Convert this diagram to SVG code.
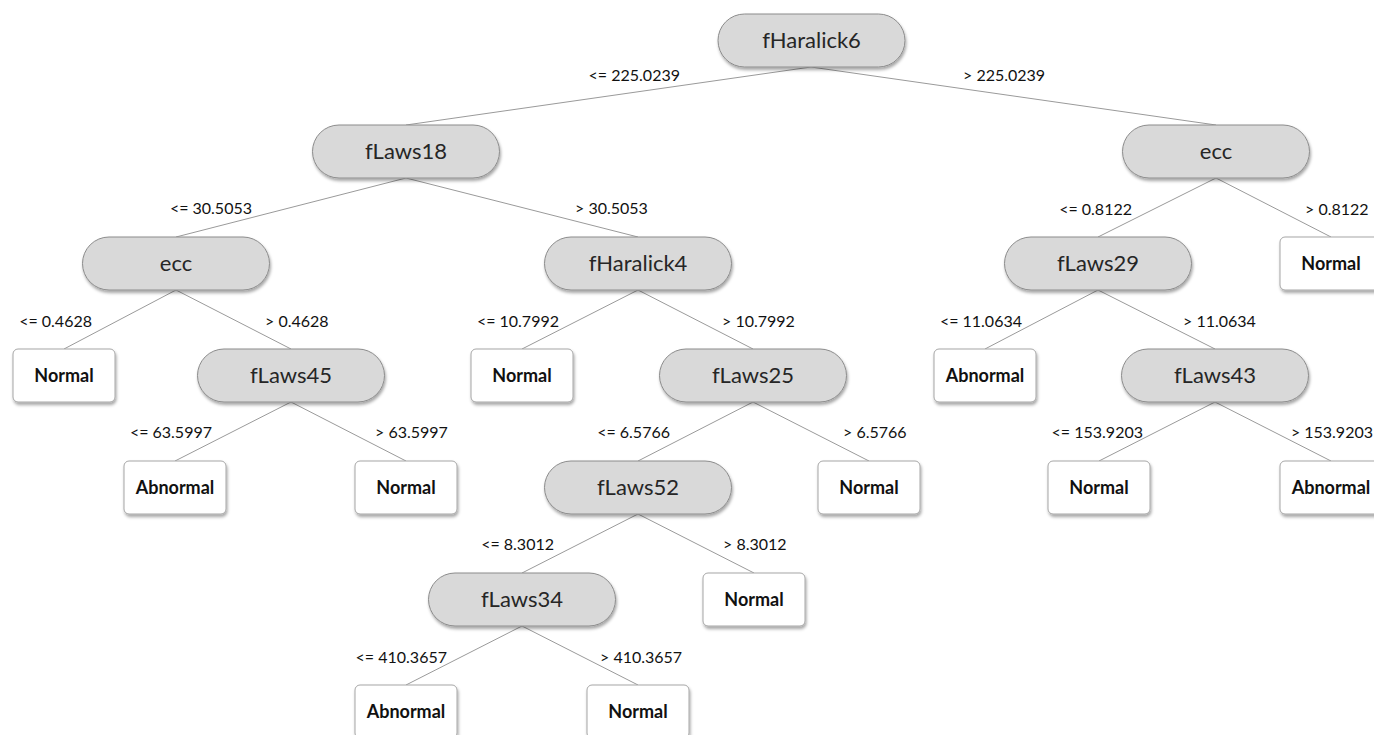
<svg xmlns="http://www.w3.org/2000/svg" width="1374" height="735" viewBox="0 0 1374 735">
<style>
.pill{fill:#d9d9d9;stroke:#8c8c8c;stroke-width:1}
.leaf{fill:#ffffff;stroke:#a6a6a6;stroke-width:1}
.nt{font-family:Lato,"Open Sans","Liberation Sans",sans-serif;font-size:22px;fill:#262626;text-anchor:middle}
.lt{font-family:Lato,"Open Sans","Liberation Sans",sans-serif;font-size:18px;font-weight:bold;fill:#111;text-anchor:middle}
.el{font-family:Lato,"Open Sans","Liberation Sans",sans-serif;font-size:16px;fill:#111}
.r{text-anchor:end}
.edge{stroke:#9a9a9a;stroke-width:1;fill:none}
</style>
<defs>
<filter id="sh" x="-10%" y="-20%" width="120%" height="150%">
<feDropShadow dx="1" dy="2.5" stdDeviation="1.5" flood-color="#000" flood-opacity="0.35"/>
</filter>
</defs>
<rect width="1374" height="735" fill="#ffffff"/>
<g id="connectors">
<line class="edge" x1="811" y1="67" x2="406" y2="125"/>
<line class="edge" x1="811" y1="67" x2="1216" y2="125"/>
<line class="edge" x1="406" y1="178" x2="176" y2="237"/>
<line class="edge" x1="406" y1="178" x2="638" y2="237"/>
<line class="edge" x1="1216" y1="178" x2="1098" y2="237"/>
<line class="edge" x1="1216" y1="178" x2="1331" y2="237"/>
<line class="edge" x1="176" y1="290" x2="64" y2="349"/>
<line class="edge" x1="176" y1="290" x2="291" y2="349"/>
<line class="edge" x1="638" y1="290" x2="522" y2="349"/>
<line class="edge" x1="638" y1="290" x2="753" y2="349"/>
<line class="edge" x1="1098" y1="290" x2="985" y2="349"/>
<line class="edge" x1="1098" y1="290" x2="1215" y2="349"/>
<line class="edge" x1="291" y1="402" x2="175" y2="461"/>
<line class="edge" x1="291" y1="402" x2="406" y2="461"/>
<line class="edge" x1="753" y1="402" x2="638" y2="461"/>
<line class="edge" x1="753" y1="402" x2="869" y2="461"/>
<line class="edge" x1="1215" y1="402" x2="1099" y2="461"/>
<line class="edge" x1="1215" y1="402" x2="1331" y2="461"/>
<line class="edge" x1="638" y1="514" x2="522" y2="573"/>
<line class="edge" x1="638" y1="514" x2="754" y2="573"/>
<line class="edge" x1="522" y1="626" x2="406" y2="685"/>
<line class="edge" x1="522" y1="626" x2="638" y2="685"/>
<text class="el r" x="680" y="81">&lt;= 225.0239</text>
<text class="el" x="963" y="81">&gt; 225.0239</text>
<text class="el r" x="252" y="214">&lt;= 30.5053</text>
<text class="el" x="575" y="214">&gt; 30.5053</text>
<text class="el r" x="1132" y="215">&lt;= 0.8122</text>
<text class="el" x="1305" y="215">&gt; 0.8122</text>
<text class="el r" x="92" y="327">&lt;= 0.4628</text>
<text class="el" x="265" y="327">&gt; 0.4628</text>
<text class="el r" x="559" y="327">&lt;= 10.7992</text>
<text class="el" x="722" y="327">&gt; 10.7992</text>
<text class="el r" x="1022" y="327">&lt;= 11.0634</text>
<text class="el" x="1183" y="327">&gt; 11.0634</text>
<text class="el r" x="212" y="438">&lt;= 63.5997</text>
<text class="el" x="375" y="438">&gt; 63.5997</text>
<text class="el r" x="670" y="438">&lt;= 6.5766</text>
<text class="el" x="843" y="438">&gt; 6.5766</text>
<text class="el r" x="1143" y="438">&lt;= 153.9203</text>
<text class="el r" x="1373" y="438">&gt; 153.9203</text>
<text class="el r" x="554" y="550">&lt;= 8.3012</text>
<text class="el" x="723" y="550">&gt; 8.3012</text>
<text class="el r" x="447" y="663">&lt;= 410.3657</text>
<text class="el" x="600" y="663">&gt; 410.3657</text>
</g>
<g id="n_fHaralick6"><rect class="pill" filter="url(#sh)" x="718" y="14" width="187" height="53" rx="26.5"/><text class="nt" x="811.5" y="48">fHaralick6</text></g>
<g id="n_fLaws18"><rect class="pill" filter="url(#sh)" x="312.5" y="125" width="187" height="53" rx="26.5"/><text class="nt" x="406" y="159">fLaws18</text></g>
<g id="n_ecc_r"><rect class="pill" filter="url(#sh)" x="1122.5" y="125" width="187" height="53" rx="26.5"/><text class="nt" x="1216" y="159">ecc</text></g>
<g id="n_ecc_l"><rect class="pill" filter="url(#sh)" x="82.5" y="237" width="187" height="53" rx="26.5"/><text class="nt" x="176" y="271">ecc</text></g>
<g id="n_fHaralick4"><rect class="pill" filter="url(#sh)" x="544.5" y="237" width="187" height="53" rx="26.5"/><text class="nt" x="638" y="271">fHaralick4</text></g>
<g id="n_fLaws29"><rect class="pill" filter="url(#sh)" x="1004.5" y="237" width="187" height="53" rx="26.5"/><text class="nt" x="1098" y="271">fLaws29</text></g>
<g id="leaf_normal_1"><rect class="leaf" filter="url(#sh)" x="1280" y="237" width="102" height="53" rx="5"/><text class="lt" x="1331" y="270">Normal</text></g>
<g id="leaf_normal_2"><rect class="leaf" filter="url(#sh)" x="13" y="349" width="102" height="53" rx="5"/><text class="lt" x="64" y="382">Normal</text></g>
<g id="n_fLaws45"><rect class="pill" filter="url(#sh)" x="197.5" y="349" width="187" height="53" rx="26.5"/><text class="nt" x="291" y="383">fLaws45</text></g>
<g id="leaf_normal_3"><rect class="leaf" filter="url(#sh)" x="471" y="349" width="102" height="53" rx="5"/><text class="lt" x="522" y="382">Normal</text></g>
<g id="n_fLaws25"><rect class="pill" filter="url(#sh)" x="659.5" y="349" width="187" height="53" rx="26.5"/><text class="nt" x="753" y="383">fLaws25</text></g>
<g id="leaf_abnormal_1"><rect class="leaf" filter="url(#sh)" x="934" y="349" width="102" height="53" rx="5"/><text class="lt" x="985" y="382">Abnormal</text></g>
<g id="n_fLaws43"><rect class="pill" filter="url(#sh)" x="1121.5" y="349" width="187" height="53" rx="26.5"/><text class="nt" x="1215" y="383">fLaws43</text></g>
<g id="leaf_abnormal_2"><rect class="leaf" filter="url(#sh)" x="124" y="461" width="102" height="53" rx="5"/><text class="lt" x="175" y="494">Abnormal</text></g>
<g id="leaf_normal_4"><rect class="leaf" filter="url(#sh)" x="355" y="461" width="102" height="53" rx="5"/><text class="lt" x="406" y="494">Normal</text></g>
<g id="n_fLaws52"><rect class="pill" filter="url(#sh)" x="544.5" y="461" width="187" height="53" rx="26.5"/><text class="nt" x="638" y="495">fLaws52</text></g>
<g id="leaf_normal_5"><rect class="leaf" filter="url(#sh)" x="818" y="461" width="102" height="53" rx="5"/><text class="lt" x="869" y="494">Normal</text></g>
<g id="leaf_normal_6"><rect class="leaf" filter="url(#sh)" x="1048" y="461" width="102" height="53" rx="5"/><text class="lt" x="1099" y="494">Normal</text></g>
<g id="leaf_abnormal_3"><rect class="leaf" filter="url(#sh)" x="1280" y="461" width="102" height="53" rx="5"/><text class="lt" x="1331" y="494">Abnormal</text></g>
<g id="n_fLaws34"><rect class="pill" filter="url(#sh)" x="428.5" y="573" width="187" height="53" rx="26.5"/><text class="nt" x="522" y="607">fLaws34</text></g>
<g id="leaf_normal_7"><rect class="leaf" filter="url(#sh)" x="703" y="573" width="102" height="53" rx="5"/><text class="lt" x="754" y="606">Normal</text></g>
<g id="leaf_abnormal_4"><rect class="leaf" filter="url(#sh)" x="355" y="685" width="102" height="53" rx="5"/><text class="lt" x="406" y="718">Abnormal</text></g>
<g id="leaf_normal_8"><rect class="leaf" filter="url(#sh)" x="587" y="685" width="102" height="53" rx="5"/><text class="lt" x="638" y="718">Normal</text></g>
</svg>
